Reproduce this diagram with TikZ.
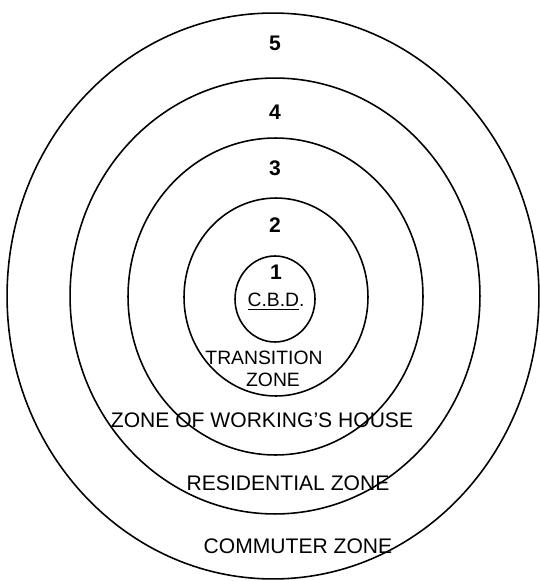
\documentclass[tikz,border=0pt]{standalone}
\usepackage{fontspec}
\setmainfont{Liberation Sans}
\usepackage{tikz}
\usetikzlibrary{
    shapes.geometric,
    positioning
}
\tikzstyle{ring} = [
    ellipse,
    draw=black,
    line width=0.9pt,
    inner sep=0pt,
    outer sep=0pt
]
\tikzstyle{ringnum} = [
    inner sep=1pt,
    font=\fontsize{12}{14}\selectfont\bfseries
]
\tikzstyle{zonetext} = [
    inner sep=1pt,
    align=center,
    font=\fontsize{12}{14}\selectfont
]

\begin{document}
\begin{tikzpicture}[x=0.02cm, y=-0.02cm]
        \useasboundingbox (0,0) rectangle (540,581);

        % concentric zones (inner to outer)
        \node[ring, minimum width=1.6cm, minimum height=1.72cm] (cbd) at (275,299) {};
        \node[ring, minimum width=3.68cm, minimum height=3.96cm] (transition) at (276,297) {};
        \node[ring, minimum width=5.9cm, minimum height=6.34cm] (working) at (275.5,296.5) {};
        \node[ring, minimum width=8.2cm, minimum height=8.72cm] (residential) at (275,296) {};
        \node[ring, minimum width=10.64cm, minimum height=11.32cm] (commuter) at (273,296) {};

        % zone numbers
        \node[ringnum] (num5) at (275,43) {5};
        \node[ringnum] (num4) at (275,112) {4};
        \node[ringnum] (num3) at (275,168) {3};
        \node[ringnum] (num2) at (275,225) {2};
        \node[ringnum] (num1) at (276,272) {1};

        % zone names
        \node[zonetext, font=\fontsize{11}{13}\selectfont] (cbdtext) at (276,302) {\underline{C.B.D}.};
        \node[zonetext, font=\fontsize{11}{13}\selectfont] (transtext) at (264,358) {TRANSITION};
        \node[zonetext, font=\fontsize{11}{13}\selectfont] (transzone) at (273,380) {ZONE};
        \node[zonetext] (worktext) at (262,420) {ZONE OF WORKING'S HOUSE};
        \node[zonetext] (restext) at (288,483) {RESIDENTIAL ZONE};
        \node[zonetext] (commtext) at (298,546) {COMMUTER ZONE};
    \end{tikzpicture}
\end{document}
